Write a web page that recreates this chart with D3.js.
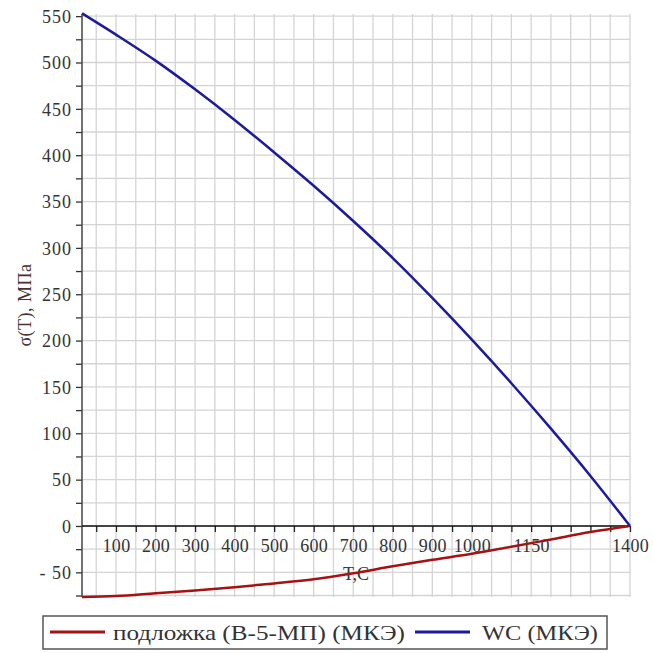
<!DOCTYPE html>
<html>
<head>
<meta charset="utf-8">
<script src="https://cdn.jsdelivr.net/npm/d3@7"></script>
<style>
  html, body { margin: 0; padding: 0; background: #fff; }
</style>
</head>
<body>
<div id="chart"></div>
<script>
// температура, C
const temps = [14, 100, 200, 300, 400, 500, 600, 700, 800, 900, 1000, 1100, 1200, 1300, 1400];
// напряжения, МПа
const wcValues = [553, 530, 502, 471, 438, 403, 367, 329, 289, 246, 201, 154, 105, 54, 0];
const substrateValues = [-76.5, -75.5, -72.5, -69.5, -66, -62, -57.5, -51, -43.5, -36.5, -30, -22.5, -14.5, -6.5, 0];
const xTickLabels = [100, 200, 300, 400, 500, 600, 700, 800, 900, 1000, 1150, 1400];
const yTickLabels = [-50, 0, 50, 100, 150, 200, 250, 300, 350, 400, 450, 500, 550];
const seriesNames = ['подложка (В-5-МП) (МКЭ)', 'WC (МКЭ)'];
const seriesColors = ['#a31313', '#1b1b9c'];

const FONT = "'Liberation Serif', 'Times New Roman', serif"

;(() => {
  const width = 653, height = 653
  const margin = {top: 14, right: 23, bottom: 56, left: 82}

  const svg = d3.select('#chart')
    .append('svg')
    .attr('width', width)
    .attr('height', height)

  const xScale = d3.scaleLinear()
    .domain([14, 1400])
    .range([margin.left, width - margin.right])

  const yScale = d3.scaleLinear()
    .domain([-76.6, 552.3])
    .range([height - margin.bottom, margin.top])

  // сетка
  const grid = svg.append('g').attr('stroke', '#d4d4d4').attr('stroke-width', 1.3)
  grid.selectAll('.vx')
    .data(d3.range(50, 1401, 50))
    .join('line')
    .attr('x1', d => xScale(d)).attr('x2', d => xScale(d))
    .attr('y1', margin.top).attr('y2', height - margin.bottom)
  grid.selectAll('.hy')
    .data(d3.range(-75, 551, 25))
    .join('line')
    .attr('x1', margin.left).attr('x2', width - margin.right)
    .attr('y1', d => yScale(d)).attr('y2', d => yScale(d))

  // ось Y
  const yAxis = d3.axisLeft(yScale)
    .tickValues(d3.range(-75, 551, 25))
    .tickSize(6)
    .tickFormat(d => yTickLabels.includes(d) ? (d < 0 ? '- ' + Math.abs(d) : d) : '')
  const gy = svg.append('g')
    .attr('transform', `translate(${margin.left},0)`)
    .call(yAxis)
  gy.select('.domain').remove()
  gy.append('line')
    .attr('x1', 0).attr('x2', 0)
    .attr('y1', margin.top).attr('y2', height - margin.bottom)
    .attr('stroke', '#444').attr('stroke-width', 1.5)
  gy.selectAll('.tick line').attr('stroke', '#333').attr('stroke-width', 1.3)
  gy.selectAll('.tick text')
    .attr('x', -10)
    .attr('dy', '0.35em')
    .style('font-family', FONT)
    .style('font-size', '18px')
    .style('letter-spacing', '1px')
    .attr('fill', '#333')

  // ось X
  const xAxis = d3.axisBottom(xScale)
    .tickValues(d3.range(50, 1401, 50))
    .tickSize(6)
    .tickFormat(d => xTickLabels.includes(d) ? d : '')
  const gx = svg.append('g')
    .attr('transform', `translate(0,${yScale(0)})`)
    .call(xAxis)
  gx.select('.domain').remove()
  gx.append('line')
    .attr('x1', margin.left).attr('x2', width - margin.right)
    .attr('y1', 0).attr('y2', 0)
    .attr('stroke', '#111').attr('stroke-width', 1.5)
  gx.selectAll('.tick line').attr('stroke', '#222').attr('stroke-width', 1.3)
  gx.selectAll('.tick text')
    .attr('y', 13)
    .attr('dy', '0.71em')
    .style('font-family', FONT)
    .style('font-size', '18px')
    .style('letter-spacing', '0.3px')
    .attr('fill', '#333')

  // подписи осей
  svg.append('text')
    .attr('x', (margin.left + width - margin.right) / 2)
    .attr('y', 580)
    .attr('text-anchor', 'middle')
    .style('font-family', FONT)
    .style('font-size', '18px')
    .attr('fill', '#333')
    .text('T,C')

  svg.append('text')
    .attr('transform', `translate(31,305) rotate(-90)`)
    .attr('text-anchor', 'middle')
    .style('font-family', FONT)
    .style('font-size', '18px')
    .style('letter-spacing', '0.5px')
    .attr('fill', '#4a3030')
    .text('σ(T), МПа')

  // кривые
  const series = [substrateValues, wcValues]
  const line = d3.line()
    .x((d, i) => xScale(temps[i]))
    .y(d => yScale(d))
    .curve(d3.curveMonotoneX)

  svg.selectAll('.curve')
    .data(series)
    .join('path')
    .attr('class', 'curve')
    .attr('d', d => line(d))
    .attr('fill', 'none')
    .attr('stroke', (d, i) => seriesColors[i])
    .attr('stroke-width', 2.5)

  // легенда
  const legend = svg.append('g')
  legend.append('rect')
    .attr('x', 43).attr('y', 616)
    .attr('width', 564).attr('height', 33)
    .attr('fill', '#fff')
    .attr('stroke', '#555')
    .attr('stroke-width', 1.5)
  const legendPos = [{line: 50, text: 113, len: 292}, {line: 415, text: 482, len: 116}]
  legendPos.forEach((p, i) => {
    legend.append('line')
      .attr('x1', p.line).attr('x2', p.line + 55)
      .attr('y1', 632).attr('y2', 632)
      .attr('stroke', seriesColors[i])
      .attr('stroke-width', 3)
    legend.append('text')
      .attr('x', p.text).attr('y', 640)
      .style('font-family', FONT)
      .style('font-size', '21px')
      .attr('fill', '#333')
      .attr('textLength', p.len)
      .attr('lengthAdjust', 'spacingAndGlyphs')
      .text(seriesNames[i])
  })
})()
</script>
</body>
</html>
